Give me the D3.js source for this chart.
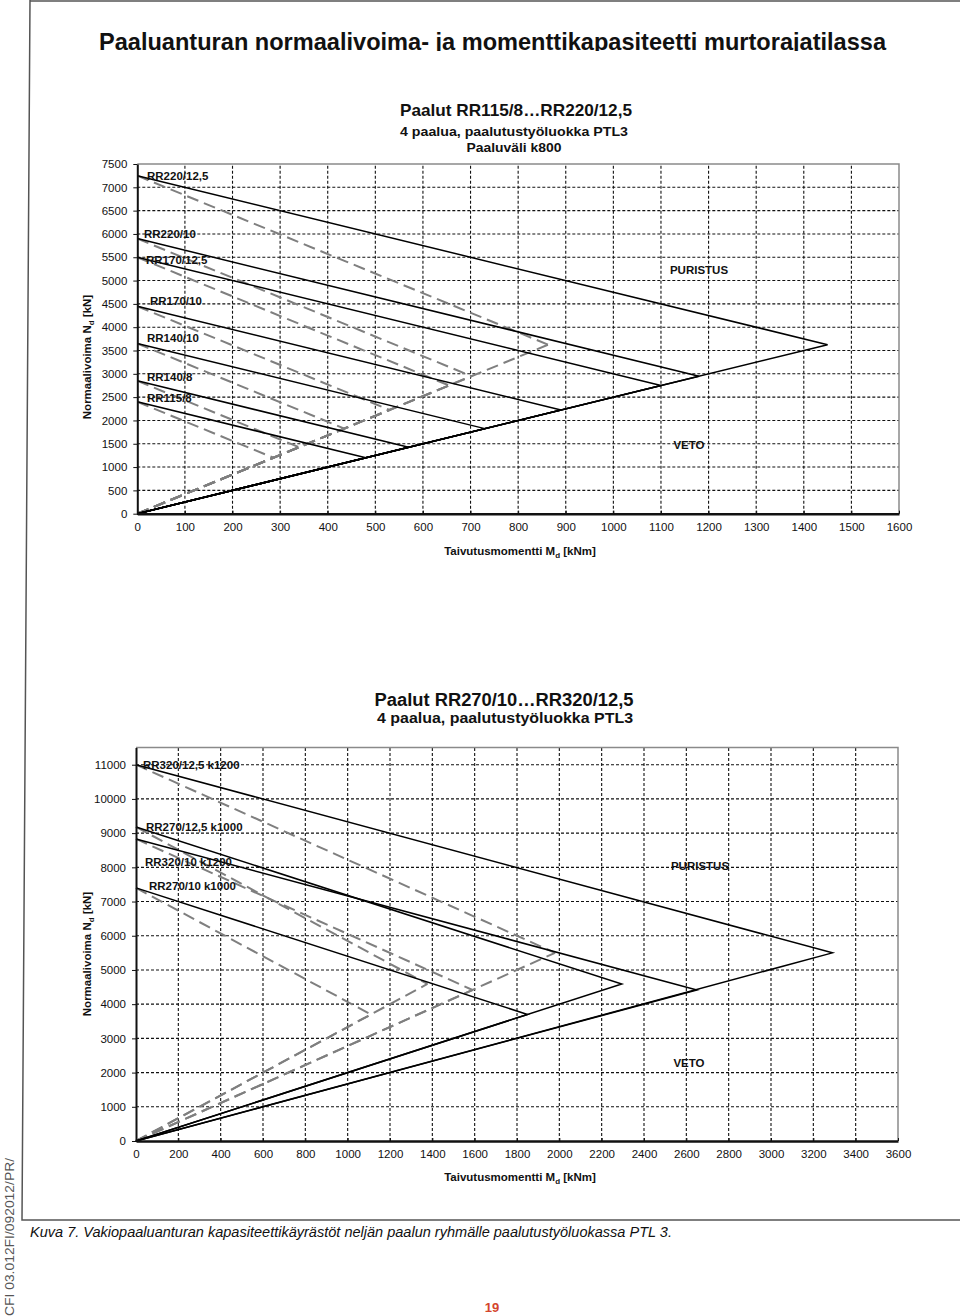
<!DOCTYPE html>
<html><head><meta charset="utf-8">
<script src="https://cdn.jsdelivr.net/npm/d3@7"></script>
<style>
body{margin:0;background:#fff}
svg{display:block}
text{font-family:"Liberation Sans",Arial,Helvetica,sans-serif}
</style>
</head><body>
<svg id="c" width="960" height="1316"></svg>
<script>
// ---------- DATA ----------
// Chart 1: piles RR115/8 ... RR220/12,5, spacing k800
const piles1 = ["RR115/8", "RR140/8", "RR140/10", "RR170/10", "RR170/12,5", "RR220/10", "RR220/12,5"];
const n0_1 = [2400, 2850, 3650, 4450, 5500, 5900, 7250];          // N at M = 0 [kN]
const vertexN1 = [1200, 1425, 1825, 2225, 2750, 2950, 3625];      // N at the vertex [kN]
const solidVertexM1 = [480, 570, 730, 890, 1100, 1180, 1450];     // M at vertex, solid curve [kNm]
const dashedVertexM1 = [286, 340, 435, 530, 655, 702, 863];       // M at vertex, dashed curve [kNm]
const xTicks1 = [0, 100, 200, 300, 400, 500, 600, 700, 800, 900, 1000, 1100, 1200, 1300, 1400, 1500, 1600];
const yTicks1 = [0, 500, 1000, 1500, 2000, 2500, 3000, 3500, 4000, 4500, 5000, 5500, 6000, 6500, 7000, 7500];

// Chart 2: piles RR270/10 ... RR320/12,5
const piles2 = ["RR320/12,5 k1200", "RR270/12,5 k1000", "RR320/10 k1200", "RR270/10 k1000"];
const n0_2 = [11000, 9180, 8830, 7400];
const vertexN2 = [5500, 4590, 4415, 3700];
const solidVertexM2 = [3290, 2295, 2650, 1850];
const dashedVertexM2 = [1980, 1377, 1590, 1110];
const xTicks2 = [0, 200, 400, 600, 800, 1000, 1200, 1400, 1600, 1800, 2000, 2200, 2400, 2600, 2800, 3000, 3200, 3400, 3600];
const yTicks2 = [0, 1000, 2000, 3000, 4000, 5000, 6000, 7000, 8000, 9000, 10000, 11000];

// ---------- DRAWING ----------
const svg = d3.select("#c");
svg.append("rect").attr("width", 960).attr("height", 1316).attr("fill", "#fff");

// page frame
svg.append("path").attr("d", "M30,1 L960,1").attr("stroke", "#555").attr("stroke-width", 1.5).attr("fill", "none");
svg.append("path").attr("d", "M30,0 L22,1220 L960,1220").attr("stroke", "#555").attr("stroke-width", 1.5).attr("fill", "none");

// title (clipped at the bottom as in the reference)
const defs = svg.append("defs");
defs.append("clipPath").attr("id", "tclip").append("rect").attr("x", 0).attr("y", 0).attr("width", 960).attr("height", 51);
svg.append("text").attr("clip-path", "url(#tclip)")
  .attr("x", 99).attr("y", 50).attr("font-size", 24).attr("font-weight", "bold").attr("fill", "#111")
  .attr("textLength", 787).attr("lengthAdjust", "spacingAndGlyphs")
  .text("Paaluanturan normaalivoima- ja momenttikapasiteetti murtorajatilassa");

function subtitle(lines) {
  lines.forEach(l => {
    svg.append("text").attr("x", l.x).attr("y", l.y).attr("font-size", l.fs).attr("font-weight", "bold")
      .attr("text-anchor", "middle").attr("fill", "#111")
      .attr("textLength", l.w).attr("lengthAdjust", "spacingAndGlyphs").text(l.t);
  });
}
subtitle([
  {t: "Paalut RR115/8\u2026RR220/12,5", x: 516, y: 116, fs: 16.5, w: 232},
  {t: "4 paalua, paalutustyöluokka PTL3", x: 514, y: 136, fs: 13, w: 228},
  {t: "Paaluväli k800", x: 514, y: 152, fs: 13, w: 95}
]);
subtitle([
  {t: "Paalut RR270/10\u2026RR320/12,5", x: 504, y: 706, fs: 18, w: 259},
  {t: "4 paalua, paalutustyöluokka PTL3", x: 505, y: 723, fs: 14, w: 256}
]);

function drawChart(cfg) {
  const g = svg.append("g");
  const x = d3.scaleLinear().domain(cfg.xDomain).range([cfg.x0, cfg.x1]);
  const y = d3.scaleLinear().domain(cfg.yDomain).range([cfg.y0, cfg.y1]);
  const fmt = d => String(d);

  // grid
  const grid = g.append("g").attr("stroke", "#111").attr("stroke-width", 1.1).attr("stroke-dasharray", "3,2");
  cfg.xTicks.filter(v => v > cfg.xDomain[0] && v < cfg.xDomain[1]).forEach(v => {
    grid.append("line").attr("x1", x(v)).attr("x2", x(v)).attr("y1", y(cfg.yDomain[0])).attr("y2", y(cfg.yDomain[1]));
  });
  cfg.yTicks.filter(v => v > cfg.yDomain[0] && v < cfg.yDomain[1]).forEach(v => {
    grid.append("line").attr("y1", y(v)).attr("y2", y(v)).attr("x1", x(cfg.xDomain[0])).attr("x2", x(cfg.xDomain[1]));
  });
  // top / right border
  g.append("path").attr("fill", "none").attr("stroke", "#8a8a8a").attr("stroke-width", 1.5)
    .attr("d", `M${x(cfg.xDomain[0])},${y(cfg.yDomain[1])} H${x(cfg.xDomain[1])} V${y(cfg.yDomain[0])}`);

  // series
  const line = d3.line().x(d => x(d[0])).y(d => y(d[1]));
  const sg = g.append("g").attr("fill", "none");
  cfg.n0.forEach((n0, i) => {
    // dashed: compression branch and tension branch
    sg.append("path").attr("d", line([[0, n0], [cfg.dashedM[i], cfg.vN[i]]]))
      .attr("stroke", "#7f7f7f").attr("stroke-width", 2).attr("stroke-dasharray", "12,6");
    sg.append("path").attr("d", line([[0, 0], [cfg.dashedM[i], cfg.vN[i]]]))
      .attr("stroke", "#7f7f7f").attr("stroke-width", 2).attr("stroke-dasharray", "12,6");
  });
  cfg.n0.forEach((n0, i) => {
    sg.append("path").attr("d", line([[0, n0], [cfg.solidM[i], cfg.vN[i]], [0, 0]]))
      .attr("stroke", "#000").attr("stroke-width", 1.5).attr("stroke-linejoin", "miter");
  });

  // axes
  const ax = g.append("g").attr("transform", `translate(0,${y(0)})`)
    .call(d3.axisBottom(x).tickValues(cfg.xTicks).tickFormat(fmt).tickSize(-3).tickSizeOuter(0).tickPadding(9));
  ax.select(".domain").attr("stroke", "#111").attr("stroke-width", 2.5);
  ax.selectAll(".tick line").attr("stroke", "#111");
  ax.selectAll("text").attr("font-size", cfg.tickFs).attr("fill", "#111")
    .style("font-family", '"Liberation Sans",Arial,sans-serif');
  const ay = g.append("g").attr("transform", `translate(${x(0)},0)`)
    .call(d3.axisLeft(y).tickValues(cfg.yTicks).tickFormat(fmt).tickSize(4).tickSizeOuter(0).tickPadding(6));
  ay.select(".domain").attr("stroke", "#111").attr("stroke-width", 2);
  ay.selectAll(".tick line").attr("stroke", "#111");
  ay.selectAll("text").attr("font-size", cfg.tickFs).attr("fill", "#111")
    .style("font-family", '"Liberation Sans",Arial,sans-serif');

  // series labels
  cfg.names.forEach((nm, i) => {
    g.append("text").attr("x", cfg.labelX[i]).attr("y", y(cfg.n0[i]) + cfg.labelDy[i])
      .attr("dy", "0.35em").attr("font-size", 11.5).attr("font-weight", "bold").attr("fill", "#111").text(nm);
  });
  // zone labels
  g.append("text").attr("x", cfg.purX).attr("y", cfg.purY).attr("dy", "0.35em").attr("text-anchor", "middle")
    .attr("font-size", 11.5).attr("font-weight", "bold").attr("fill", "#111").text("PURISTUS");
  g.append("text").attr("x", cfg.vetoX).attr("y", cfg.vetoY).attr("dy", "0.35em").attr("text-anchor", "middle")
    .attr("font-size", 11.5).attr("font-weight", "bold").attr("fill", "#111").text("VETO");

  // axis titles
  const xt = g.append("text").attr("x", cfg.xtX).attr("y", cfg.xtY).attr("text-anchor", "middle")
    .attr("font-size", 11.5).attr("font-weight", "bold").attr("fill", "#111");
  xt.append("tspan").text("Taivutusmomentti M");
  xt.append("tspan").attr("font-size", 8).attr("dy", 3).text("d");
  xt.append("tspan").attr("dy", -3).text(" [kNm]");
  const yt = g.append("text").attr("transform", `translate(${cfg.ytX},${cfg.ytY}) rotate(-90)`).attr("text-anchor", "middle")
    .attr("font-size", 11.5).attr("font-weight", "bold").attr("fill", "#111");
  yt.append("tspan").text("Normaalivoima N");
  yt.append("tspan").attr("font-size", 8).attr("dy", 3).text("d");
  yt.append("tspan").attr("dy", -3).text(" [kN]");
}

drawChart({
  names: piles1, n0: n0_1, vN: vertexN1, solidM: solidVertexM1, dashedM: dashedVertexM1,
  xTicks: xTicks1, yTicks: yTicks1, xDomain: [0, 1600], yDomain: [0, 7500],
  x0: 137.3, x1: 899, y0: 513.7, y1: 164, tickFs: 11.5,
  labelX: [147, 147, 147, 150, 146, 144, 147], labelDy: [-4, -4, -6, -5, 3, -5, 0],
  purX: 699, purY: 270, vetoX: 689, vetoY: 445,
  xtX: 520, xtY: 555, ytX: 91, ytY: 357
});
drawChart({
  names: piles2, n0: n0_2, vN: vertexN2, solidM: solidVertexM2, dashedM: dashedVertexM2,
  xTicks: xTicks2, yTicks: yTicks2, xDomain: [0, 3600], yDomain: [0, 11500],
  x0: 136, x1: 898, y0: 1141, y1: 747.6, tickFs: 11.5,
  labelX: [143, 146, 145, 149], labelDy: [0, 0, 23, -2],
  purX: 700, purY: 866, vetoX: 689, vetoY: 1063,
  xtX: 520, xtY: 1181, ytX: 91, ytY: 954
});

// caption
svg.append("text").attr("x", 30).attr("y", 1237).attr("font-size", 14.5).attr("font-style", "italic").attr("fill", "#111")
  .attr("textLength", 642).attr("lengthAdjust", "spacingAndGlyphs")
  .text("Kuva 7. Vakiopaaluanturan kapasiteettikäyrästöt neljän paalun ryhmälle paalutustyöluokassa PTL 3.");
// side text
svg.append("text").attr("transform", "translate(14,1316) rotate(-90)").attr("font-size", 12.5).attr("fill", "#555")
  .attr("textLength", 158).attr("lengthAdjust", "spacingAndGlyphs").text("CFI 03.012FI/092012/PR/");
// page number
svg.append("text").attr("x", 492).attr("y", 1312).attr("text-anchor", "middle").attr("font-size", 13)
  .attr("font-weight", "bold").attr("fill", "#d4452c").text("19");
</script>
</body></html>
